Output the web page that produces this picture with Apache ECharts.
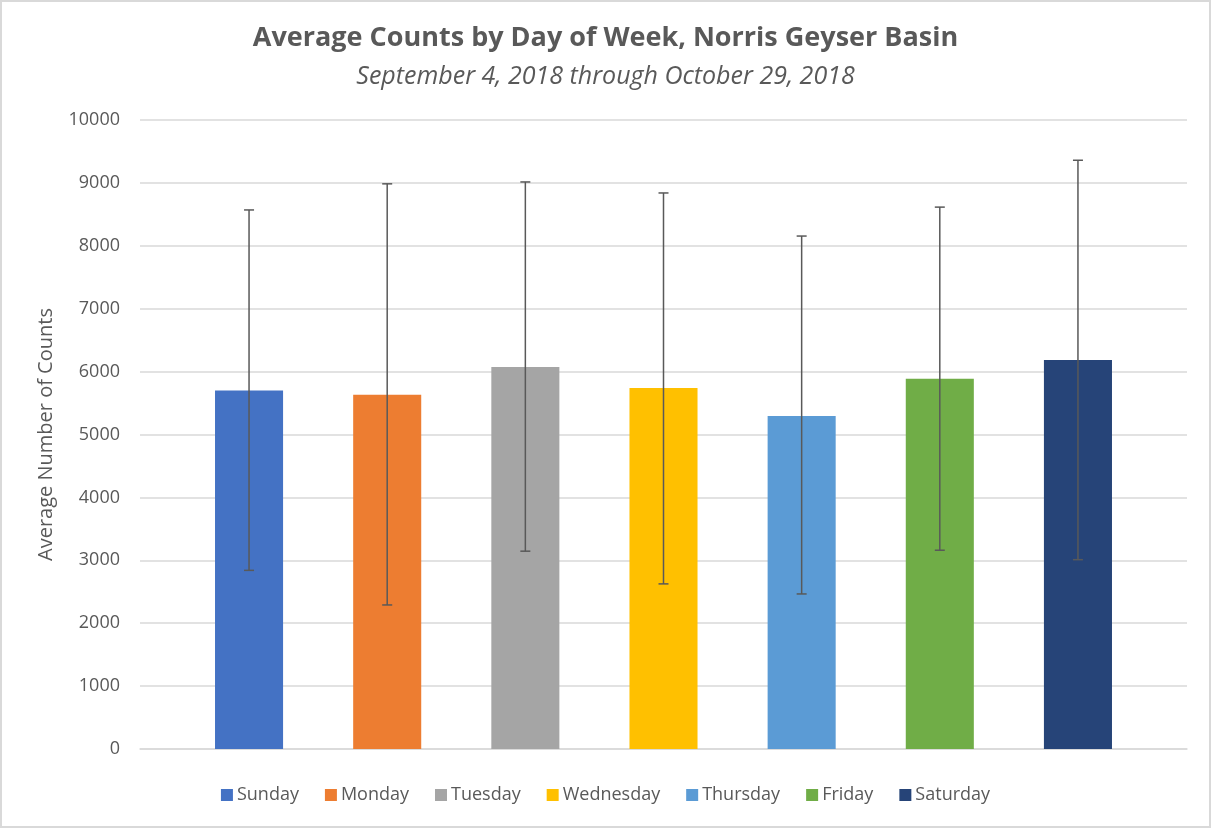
<!DOCTYPE html>
<html>
<head>
<meta charset="utf-8">
<title>Average Counts by Day of Week</title>
<script src="https://cdn.jsdelivr.net/npm/echarts@6/dist/echarts.min.js"></script>
<style>
  html, body { margin: 0; padding: 0; background: #fff; }
  #main { width: 1211px; height: 828px; box-sizing: border-box; border: 2px solid #d9d9d9; }
</style>
</head>
<body>
<div id="main"></div>
<script>
// data
var days = ['Sunday', 'Monday', 'Tuesday', 'Wednesday', 'Thursday', 'Friday', 'Saturday']
var means = [5700, 5630, 6075, 5740, 5295, 5885, 6185]
var errLow = [2840, 2290, 3145, 2625, 2465, 3160, 3010]
var errHigh = [8570, 8985, 9015, 8840, 8155, 8615, 9360]
var yTicks = [0, 1000, 2000, 3000, 4000, 5000, 6000, 7000, 8000, 9000, 10000]
var colors = ['#4472C4', '#ED7D31', '#A5A5A5', '#FFC000', '#5B9BD5', '#70AD47', '#264478']

var BAR_PCT = 0.065
var BAR_GAP = 1.03

var myChart = echarts.init(document.getElementById('main'))

var series = days.map(function (d, i) {
  return {
    name: d,
    type: 'bar',
    barWidth: (BAR_PCT * 100) + '%',
    barGap: (BAR_GAP * 100) + '%',
    itemStyle: { color: colors[i] },
    data: [means[i]]
  }
})

// error bars drawn next to each bar of the single cluster
series.push({
  type: 'custom',
  name: 'errors',
  z: 10,
  silent: true,
  encode: { x: 0, y: [1, 2] },
  data: days.map(function (d, i) { return [0, errLow[i], errHigh[i], i] }),
  renderItem: function (params, api) {
    var idx = api.value(3)
    var band = api.size([1, 0])[0]
    var step = band * BAR_PCT * (1 + BAR_GAP)
    var lo = api.coord([api.value(0), api.value(1)])
    var hi = api.coord([api.value(0), api.value(2)])
    var x = lo[0] + (idx - (days.length - 1) / 2) * step
    var cap = 5
    var style = { stroke: '#595959', lineWidth: 1.5 }
    return {
      type: 'group',
      children: [
        { type: 'line', shape: { x1: x, y1: lo[1], x2: x, y2: hi[1] }, style: style },
        { type: 'line', shape: { x1: x - cap, y1: lo[1], x2: x + cap, y2: lo[1] }, style: style },
        { type: 'line', shape: { x1: x - cap, y1: hi[1], x2: x + cap, y2: hi[1] }, style: style }
      ]
    }
  }
})

var option = {
  animation: false,
  textStyle: { fontFamily: 'Open Sans' },
  title: [{
    text: 'Average Counts by Day of Week, Norris Geyser Basin',
    left: 'center',
    top: 18,
    textStyle: { fontSize: 27, fontWeight: 'bold', color: '#595959', fontFamily: 'Open Sans' }
  }, {
    text: 'September 4, 2018 through October 29, 2018',
    left: 'center',
    top: 57,
    textStyle: { fontSize: 25, fontWeight: 'normal', fontStyle: 'italic', color: '#595959', fontFamily: 'Open Sans' }
  }],
  legend: {
    bottom: 17,
    left: 'center',
    itemWidth: 12,
    itemHeight: 12,
    itemGap: 26,
    icon: 'rect',
    data: days,
    textStyle: { fontSize: 18, color: '#595959', padding: [0, 0, 0, -1] }
  },
  grid: { left: 138, right: 22, top: 118, bottom: 77 },
  xAxis: {
    type: 'category',
    data: ['Average'],
    axisLine: { lineStyle: { color: '#d9d9d9', width: 1.5 } },
    axisTick: { show: false },
    axisLabel: { show: false }
  },
  yAxis: {
    type: 'value',
    min: yTicks[0],
    max: yTicks[yTicks.length - 1],
    interval: yTicks[1] - yTicks[0],
    name: 'Average Number of Counts',
    nameLocation: 'middle',
    nameGap: 84,
    nameTextStyle: { fontSize: 20, color: '#595959' },
    axisLabel: { fontSize: 18, color: '#595959', margin: 20, formatter: function (v) { return String(v) } },
    splitLine: { lineStyle: { color: '#d9d9d9', width: 1.5 } }
  },
  series: series
}

myChart.setOption(option)

window.onresize = function () {
  myChart.resize()
}
</script>
</body>
</html>
